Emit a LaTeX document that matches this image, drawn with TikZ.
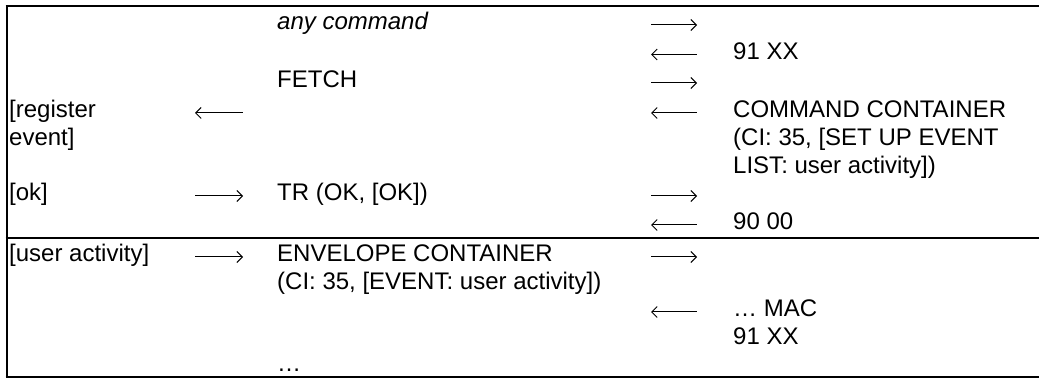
\documentclass[tikz,border=0pt]{standalone}
\usepackage{fontspec}
\setmainfont{Liberation Sans}
\usetikzlibrary{arrows.meta}

\begin{document}
\begin{tikzpicture}[x=1pt,y=-1pt,
    cell/.style={anchor=base west,inner sep=0pt,align=left,
      font=\fontsize{24}{27.6}\selectfont},
    rule/.style={line width=2pt},
    msgr/.style={line width=1pt,-{Straight Barb[length=5.5pt,width=11pt]}},
    msgl/.style={line width=1pt,{Straight Barb[length=5.5pt,width=11pt]}-}]
  \useasboundingbox (0,0) rectangle (1039,379);

  % Cadre
  \draw[rule] (6.5,5.5) -- (6.5,377.5);
  \draw[rule] (5.5,6.5) -- (1039,6.5);
  \draw[rule] (5.5,238) -- (1039,238);
  \draw[rule] (5.5,376.5) -- (1039,376.5);

  % Colonne gauche (base = derniere ligne)
  \node[cell] (reg) at (9,145.6) {[register\\event]};
  \node[cell] (ok) at (9,201) {[ok]};
  \node[cell] (user) at (9,262) {[user activity]};

  % Colonne du milieu
  \node[cell,font=\fontsize{24}{27.6}\selectfont\itshape] (any) at (277,30) {any command};
  \node[cell] (fetch) at (277,88) {FETCH};
  \node[cell] (tr) at (277,201) {TR (OK, [OK])};
  \node[cell] (env) at (277,289.6) {ENVELOPE CONTAINER\\(CI: 35, [EVENT: user activity])};
  \node[cell] (dots) at (277,371) {\dots};

  % Colonne droite
  \node[cell] (sw) at (733,59.5) {91 XX};
  \node[cell] (cc) at (733,173.2) {COMMAND CONTAINER\\(CI: 35, [SET UP EVENT\\LIST: user activity])};
  \node[cell] (ok9000) at (733,230) {90 00};
  \node[cell] (mac) at (733,344.6) {\dots{} MAC\\91 XX};

  % Fleches
  \draw[msgl] (195,113) -- ++(48,0);
  \draw[msgr] (195,196) -- ++(48,0);
  \draw[msgr] (195,257) -- ++(48,0);
  \draw[msgr] (651,25) -- ++(46,0);
  \draw[msgl] (651,54.5) -- ++(46,0);
  \draw[msgr] (651,83) -- ++(46,0);
  \draw[msgl] (651,113) -- ++(46,0);
  \draw[msgr] (651,196) -- ++(46,0);
  \draw[msgl] (651,225) -- ++(46,0);
  \draw[msgr] (651,257) -- ++(46,0);
  \draw[msgl] (651,312) -- ++(46,0);
\end{tikzpicture}
\end{document}
